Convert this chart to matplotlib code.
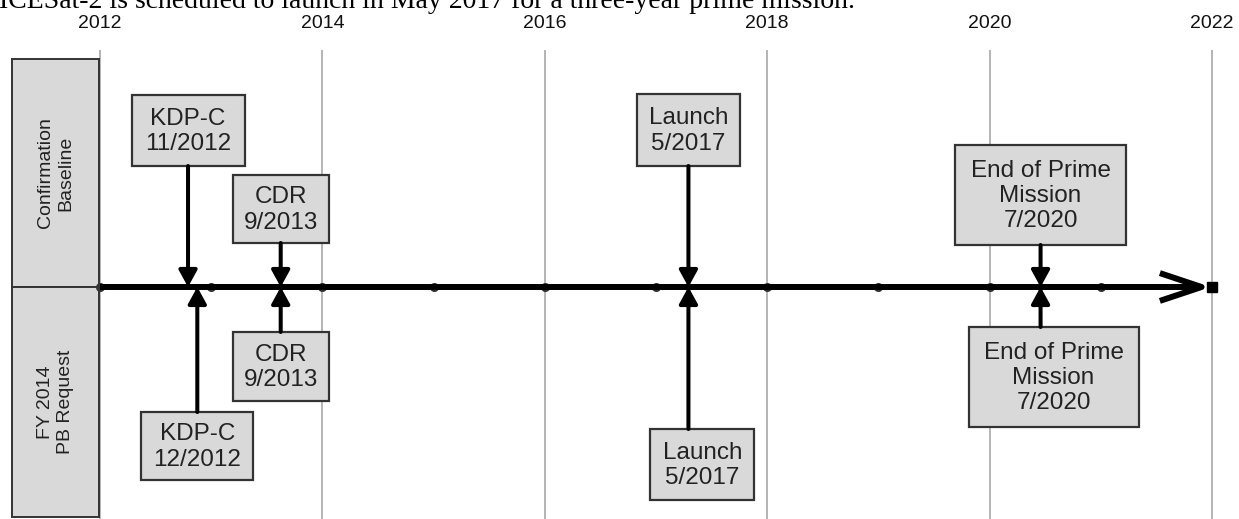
import matplotlib.pyplot as plt
from matplotlib.patches import Rectangle, FancyArrowPatch

# --- data ---
years = list(range(2012, 2023))
year_labels = ["2012", "2014", "2016", "2018", "2020", "2022"]
rows = ["Confirmation\nBaseline", "FY 2014\nPB Request"]
events = ["KDP-C", "CDR", "Launch", "End of Prime\nMission"]
baseline_dates = ["11/2012", "9/2013", "5/2017", "7/2020"]
request_dates = ["12/2012", "9/2013", "5/2017", "7/2020"]
title = "ICESat-2 is scheduled to launch in May 2017 for a three-year prime mission."

# --- layout (pixels) ---
W, H = 1239, 519
PX0, PPY = 100, 111.2        # pixel of 2012, pixels per year
AXIS_Y = 287
# box: top, bottom, width, x offset of box centre from its arrow
top_boxes = [(95, 166, 113, 0), (175, 243, 96, 0), (94, 166, 103, 0), (145, 245, 171, 0)]
bot_boxes = [(412, 480, 112, 0), (332, 401, 96, 0), (429, 500, 104, 14), (327, 427, 170, 13)]

FONT = "Liberation Sans"
BOX_FC, EDGE = "#d9d9d9", "#333333"


def to_year(d):
    m, y = d.split("/")
    return int(y) + (int(m) - 1.5) / 12


def px(p):
    return p / PPY


fig = plt.figure(figsize=(W / 100, H / 100), dpi=100)
ax = fig.add_axes([0, 0, 1, 1])
ax.set_xlim(2012 - PX0 / PPY, 2012 + (W - PX0) / PPY)
ax.set_ylim(H, 0)
ax.axis("off")

# clipped sentence at top
fig.text(-0.001, 1 - 8 / H, title, family="Liberation Serif", fontsize=20,
         va="baseline", ha="left", color="black")

# gridlines + year labels
even = [int(s) for s in year_labels]
ax.vlines(even, 50, H, color="#a8a8a8", lw=1.2, zorder=0)
for s in year_labels:
    ax.text(int(s), 23, s, ha="center", va="center", family=FONT,
            fontsize=14, color="#111111")

# row label boxes
row_spans = [(59, AXIS_Y), (AXIS_Y, 517)]
for lab, (t, b) in zip(rows, row_spans):
    x0 = 2012 - px(88)
    ax.add_patch(Rectangle((x0, t), px(87), b - t, fc=BOX_FC, ec=EDGE, lw=1.4, zorder=3))
    ax.text(x0 + px(87) / 2, (t + b) / 2, lab, rotation=90, ha="center", va="center",
            family=FONT, fontsize=14, color="#222222", linespacing=1.25, zorder=4)

# main time axis
ax.add_patch(FancyArrowPatch((2012, AXIS_Y), (2022 - px(1), AXIS_Y),
                             arrowstyle="->,head_length=30,head_width=10",
                             lw=4.3, color="black", shrinkA=0, shrinkB=0,
                             mutation_scale=1, zorder=5, capstyle="butt"))
ax.plot(years[:-1], [AXIS_Y] * (len(years) - 1), "o", ms=5.5, color="#333333", zorder=4)
ax.plot([years[-1]], [AXIS_Y], "s", ms=6.5, color="black", zorder=6)


def milestone(x, box, text, above):
    t, b, w, off = box
    cx = x + px(off)
    ax.add_patch(Rectangle((cx - px(w) / 2, t), px(w), b - t, fc=BOX_FC, ec=EDGE,
                           lw=1.6, zorder=3))
    ax.text(cx, (t + b) / 2 + 1, text, ha="center", va="center", family=FONT,
            fontsize=17.5, color="#222222", linespacing=1.18, zorder=4)
    start = (x, b) if above else (x, t)
    ax.add_patch(FancyArrowPatch(start, (x, AXIS_Y),
                                 arrowstyle="-|>,head_length=10,head_width=5.5",
                                 lw=2.9, color="black", shrinkA=0, shrinkB=0,
                                 mutation_scale=1, zorder=5))


for ev, d, box in zip(events, baseline_dates, top_boxes):
    milestone(to_year(d), box, ev + "\n" + d, True)
for ev, d, box in zip(events, request_dates, bot_boxes):
    milestone(to_year(d), box, ev + "\n" + d, False)

fig.savefig("out.png", dpi=100)
